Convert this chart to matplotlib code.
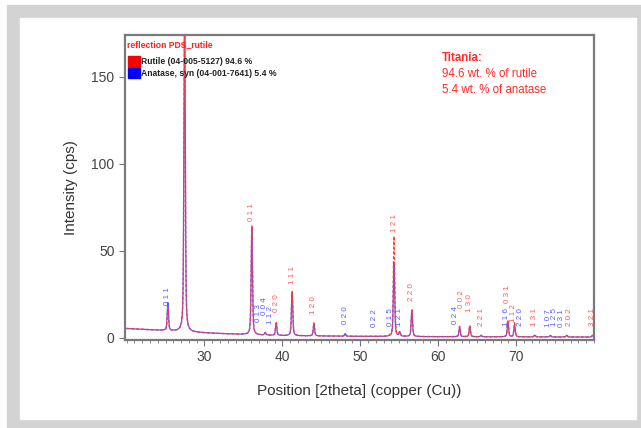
import numpy as np
import matplotlib
matplotlib.use("Agg")
from matplotlib import pyplot as plt
from matplotlib.patches import Rectangle

plt.rcParams["font.family"] = ["Liberation Sans", "DejaVu Sans"]

# peak table (2theta, intensity above background)
peak_pos = [25.30, 27.45, 36.08, 37.80, 39.20, 41.25, 44.05, 48.05, 54.33, 55.06,
            56.62, 62.75, 64.05, 65.50, 68.95, 69.80, 72.40, 74.40, 76.50, 79.80]
meas_height = [13, 178, 63, 1.2, 8, 26, 7.5, 1.2, 58, 2.5,
               16, 6, 6.5, 0.8, 9.5, 8, 1.2, 0.8, 1.2, 1.0]
calc_height = [16, 195, 61, 1.5, 7, 25, 7, 1.5, 43, 2.5,
               15, 5.5, 6, 0.8, 9, 7, 1.0, 0.8, 1.0, 0.8]

# background anchors
bg_x = [20, 22, 25, 28, 32, 36, 40, 50, 60, 70, 80]
bg_y = [5.4, 4.9, 4.2, 3.3, 2.5, 1.8, 1.3, 0.9, 0.7, 0.6, 0.5]

# reflection labels: position, hkl, label base height
rutile_labels = [(36.08, "0 1 1", 67), (39.20, "0 2 0", 15), (41.25, "1 1 1", 31),
                 (44.05, "1 2 0", 14), (54.33, "1 2 1", 61), (56.62, "2 2 0", 21),
                 (62.95, "0 0 2", 17), (64.05, "1 3 0", 15), (65.50, "2 2 1", 7),
                 (68.95, "0 3 1", 20), (69.70, "1 1 2", 9), (72.40, "1 3 1", 7),
                 (76.85, "2 0 2", 7), (79.80, "3 2 1", 7)]
anatase_labels = [(25.30, "0 1 1", 19), (36.90, "0 1 3", 9), (37.70, "0 0 4", 13),
                  (38.50, "1 1 2", 8), (48.05, "0 2 0", 8), (51.80, "0 2 2", 6),
                  (53.90, "0 1 5", 7), (55.06, "1 2 1", 7), (62.25, "0 2 4", 8),
                  (68.75, "1 1 6", 7), (70.55, "2 2 0", 7), (74.10, "1 0 7", 6),
                  (74.95, "1 2 5", 7), (75.80, "0 3 1", 6)]

two_theta = np.arange(20.0, 80.0, 0.02)


def profile(heights, fwhm=0.2, eta=0.5):
    y = np.interp(two_theta, bg_x, bg_y)
    hw = fwhm / 2
    for p, h in zip(peak_pos, heights):
        d = two_theta - p
        lor = 1 / (1 + (d / hw) ** 2)
        gau = np.exp(-np.log(2) * (d / hw) ** 2)
        y = y + h * (eta * lor + (1 - eta) * gau)
    return y


fig = plt.figure(figsize=(6.41, 4.28), dpi=100)
fig.patches.append(Rectangle((7 / 641, 0), 1, 423 / 428, transform=fig.transFigure,
                             color="#d3d3d3", zorder=-10))
fig.patches.append(Rectangle((20 / 641, 9 / 428), 616 / 641, 401 / 428,
                             transform=fig.transFigure, color="white", zorder=-9))

ax = fig.add_axes([125 / 641, 88 / 428, 469 / 641, 305 / 428])
ax.plot(two_theta, profile(calc_height), color="#2b2bff", lw=0.9, alpha=0.8)
ax.plot(two_theta, profile(meas_height), color="#ff3b3b", lw=1.0, ls=(0, (2, 1.5)))

for pos, hkl, base in rutile_labels:
    ax.text(pos, base, hkl, rotation=90, ha="center", va="bottom",
            fontsize=5.8, color="#ff5a5a")
for pos, hkl, base in anatase_labels:
    ax.text(pos, base, hkl, rotation=90, ha="center", va="bottom",
            fontsize=5.8, color="#5a5aff")

ax.set_xlim(19.8, 80)
ax.set_ylim(-1.2, 174)
ax.set_xticks([30, 40, 50, 60, 70])
ax.set_xticks(np.arange(20, 81, 1), minor=True)
ax.set_yticks([0, 50, 100, 150])
ax.tick_params(axis="both", which="major", direction="out", length=4, width=0.8,
               colors="#777777", labelcolor="#444444", labelsize=10)
ax.tick_params(axis="x", which="minor", direction="out", length=2.5, width=0.6,
               colors="#777777")
for s in ax.spines.values():
    s.set_color("#7a7a7a")
    s.set_linewidth(1.6)

ax.set_xlabel("Position [2theta] (copper (Cu))", fontsize=11, color="#333333",
              labelpad=14)
ax.set_ylabel("Intensity (cps)", fontsize=11, color="#333333", labelpad=10)

# phase legend
ax.text(0.005, 0.985, "reflection PDS_rutile", transform=ax.transAxes, fontsize=6.2,
        color="#ff2020", fontweight="bold", va="top", ha="left")
ax.add_patch(Rectangle((0.006, 0.895), 0.025, 0.035, transform=ax.transAxes,
                       color="#ff0000", zorder=5))
ax.add_patch(Rectangle((0.006, 0.858), 0.025, 0.035, transform=ax.transAxes,
                       color="#0000ff", zorder=5))
ax.text(0.035, 0.912, "Rutile (04-005-5127) 94.6 %", transform=ax.transAxes,
        fontsize=6.2, color="#222222", va="center", ha="left", fontweight="bold")
ax.text(0.035, 0.875, "Anatase, syn (04-001-7641) 5.4 %", transform=ax.transAxes,
        fontsize=6.2, color="#222222", va="center", ha="left", fontweight="bold")

ax.text(0.675, 0.925, "Titania:", transform=ax.transAxes, fontsize=8.3,
        color="#ff2a2a", fontweight="bold", va="center")
ax.text(0.675, 0.872, "94.6 wt. % of rutile", transform=ax.transAxes, fontsize=8.3,
        color="#ff2a2a", va="center")
ax.text(0.675, 0.819, "5.4 wt. % of anatase", transform=ax.transAxes, fontsize=8.3,
        color="#ff2a2a", va="center")

fig.savefig("out.png", dpi=100)
